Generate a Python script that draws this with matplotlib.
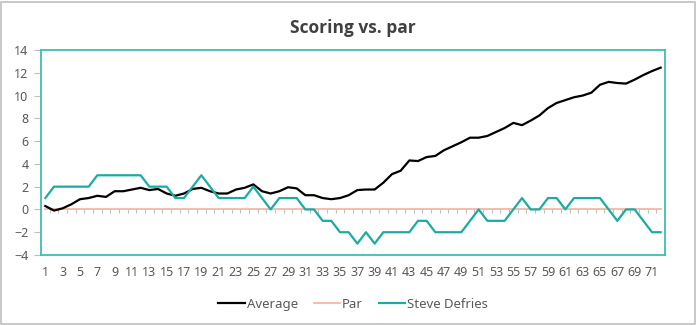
import matplotlib.pyplot as plt
import matplotlib.patches as mpatches
import numpy as np

plt.rcParams['font.family'] = ['Noto Sans', 'DejaVu Sans']

holes = np.arange(1, 73)

average = [0.3, -0.1, 0.1, 0.45, 0.9, 1.0, 1.2, 1.1, 1.6, 1.6,
           1.75, 1.9, 1.7, 1.8, 1.4, 1.2, 1.4, 1.8, 1.9, 1.6,
           1.4, 1.4, 1.75, 1.9, 2.2, 1.6, 1.4, 1.6, 1.95, 1.85,
           1.25, 1.25, 1.0, 0.9, 1.0, 1.25, 1.7, 1.75, 1.75, 2.35,
           3.1, 3.4, 4.3, 4.25, 4.6, 4.7, 5.2, 5.55, 5.9, 6.3,
           6.3, 6.45, 6.8, 7.15, 7.6, 7.4, 7.8, 8.25, 8.9, 9.35,
           9.6, 9.85, 10.0, 10.25, 10.95, 11.2, 11.1, 11.05, 11.4, 11.8,
           12.15, 12.45]

par = [0] * 72

steve = [1, 2, 2, 2, 2, 2, 3, 3, 3, 3,
         3, 3, 2, 2, 2, 1, 1, 2, 3, 2,
         1, 1, 1, 1, 2, 1, 0, 1, 1, 1,
         0, 0, -1, -1, -2, -2, -3, -2, -3, -2,
         -2, -2, -2, -1, -1, -2, -2, -2, -2, -1,
         0, -1, -1, -1, 0, 1, 0, 0, 1, 1,
         0, 1, 1, 1, 1, 0, -1, 0, 0, -1,
         -2, -2]

teal = '#1AACA4'
border = '#3DBDB5'
grey_txt = '#595959'

fig = plt.figure(figsize=(6.97, 3.25), dpi=100)
ax = fig.add_axes([41 / 697, 70 / 325, 624 / 697, 205 / 325])

ax.plot(holes, par, color='#F4B6A6', lw=1.3, label='Par', zorder=2)
ax.plot(holes, average, color='black', lw=1.6, label='Average', zorder=3)
ax.plot(holes, steve, color=teal, lw=1.6, label='Steve Defries', zorder=4)

# small ticks on the zero line between categories
bounds = np.arange(1.5, 72.5, 1)
ax.vlines(bounds, -0.3, 0, color='#BFBFBF', lw=0.8, zorder=1)

ax.set_xlim(0.5, 72.5)
ax.set_ylim(-4, 14)
ax.set_yticks(range(-4, 15, 2))
ax.set_xticks(holes[::2])
ax.tick_params(axis='x', length=0, pad=8, labelsize=9, colors=grey_txt)
ax.tick_params(axis='y', length=5, width=0.8, color='#BFBFBF', pad=4,
               labelsize=9, labelcolor=grey_txt)

for s in ax.spines.values():
    s.set_color(border)
    s.set_linewidth(1.3)

ax.set_title('Scoring vs. par', fontsize=12.5, fontweight='bold', color='#404040', pad=12,
             family=['Open Sans', 'DejaVu Sans'])

handles, labels = ax.get_legend_handles_labels()
order = [1, 0, 2]
ax.legend([handles[i] for i in order], [labels[i] for i in order],
          loc='upper center', bbox_to_anchor=(0.5, -0.15), ncol=3, frameon=False,
          fontsize=9.5, handlelength=2.0, handletextpad=0.15, columnspacing=1.2,
          labelcolor=grey_txt)

fig.patches.append(mpatches.Rectangle((0.002, 0.004), 0.995, 0.991, transform=fig.transFigure,
                                      fill=False, edgecolor='#BFBFBF', lw=1.2))

plt.savefig('out.png', dpi=100)
